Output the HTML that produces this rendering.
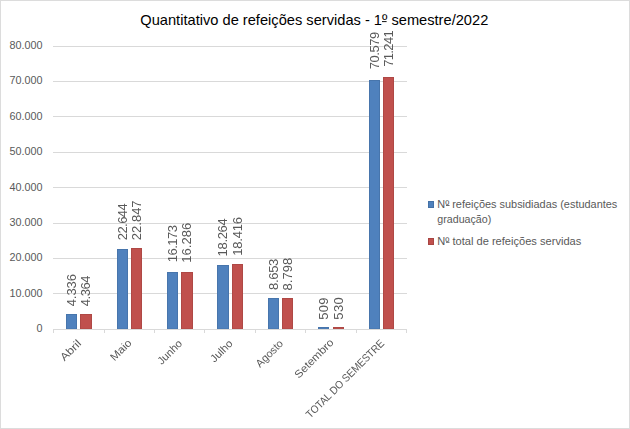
<!DOCTYPE html>
<html><head><meta charset="utf-8"><style>
html,body{margin:0;padding:0;background:#fff;}
svg{display:block;font-family:"Liberation Sans",sans-serif;}
.ov{position:absolute;left:0;top:0;will-change:transform;}
</style></head><body>
<div style="position:relative;width:630px;height:429px;overflow:hidden">
<svg width="630" height="429" viewBox="0 0 630 429">
<rect x="0.5" y="0.5" width="629" height="428" fill="#fff" stroke="#dcdcdc" stroke-width="1"/>
<text x="140.3" y="24.8" font-size="13.9" fill="#000" textLength="348" lengthAdjust="spacingAndGlyphs">Quantitativo de refeições servidas - 1º semestre/2022</text>
<line x1="53" y1="46.5" x2="407" y2="46.5" stroke="#d9d9d9" stroke-width="1"/>
<line x1="53" y1="81.5" x2="407" y2="81.5" stroke="#d9d9d9" stroke-width="1"/>
<line x1="53" y1="116.5" x2="407" y2="116.5" stroke="#d9d9d9" stroke-width="1"/>
<line x1="53" y1="152.5" x2="407" y2="152.5" stroke="#d9d9d9" stroke-width="1"/>
<line x1="53" y1="187.5" x2="407" y2="187.5" stroke="#d9d9d9" stroke-width="1"/>
<line x1="53" y1="223.5" x2="407" y2="223.5" stroke="#d9d9d9" stroke-width="1"/>
<line x1="53" y1="258.5" x2="407" y2="258.5" stroke="#d9d9d9" stroke-width="1"/>
<line x1="53" y1="293.5" x2="407" y2="293.5" stroke="#d9d9d9" stroke-width="1"/>
<text x="42.6" y="49.00" font-size="10.8" fill="#595959" text-anchor="end">80.000</text>
<text x="42.6" y="84.39" font-size="10.8" fill="#595959" text-anchor="end">70.000</text>
<text x="42.6" y="119.78" font-size="10.8" fill="#595959" text-anchor="end">60.000</text>
<text x="42.6" y="155.17" font-size="10.8" fill="#595959" text-anchor="end">50.000</text>
<text x="42.6" y="190.56" font-size="10.8" fill="#595959" text-anchor="end">40.000</text>
<text x="42.6" y="225.95" font-size="10.8" fill="#595959" text-anchor="end">30.000</text>
<text x="42.6" y="261.34" font-size="10.8" fill="#595959" text-anchor="end">20.000</text>
<text x="42.6" y="296.73" font-size="10.8" fill="#595959" text-anchor="end">10.000</text>
<text x="42.6" y="332.12" font-size="10.8" fill="#595959" text-anchor="end">0</text>
<rect x="66" y="314" width="11" height="15" fill="#4F81BD"/>
<rect x="66.5" y="314.5" width="10" height="14.5" fill="none" stroke="#385D8A" stroke-width="1" stroke-opacity="0.32"/>
<rect x="80" y="314" width="12" height="15" fill="#C0504D"/>
<rect x="80.5" y="314.5" width="11" height="14.5" fill="none" stroke="#8C3836" stroke-width="1" stroke-opacity="0.32"/>
<rect x="117" y="249" width="11" height="80" fill="#4F81BD"/>
<rect x="117.5" y="249.5" width="10" height="79.5" fill="none" stroke="#385D8A" stroke-width="1" stroke-opacity="0.32"/>
<rect x="131" y="248" width="11" height="81" fill="#C0504D"/>
<rect x="131.5" y="248.5" width="10" height="80.5" fill="none" stroke="#8C3836" stroke-width="1" stroke-opacity="0.32"/>
<rect x="167" y="272" width="11" height="57" fill="#4F81BD"/>
<rect x="167.5" y="272.5" width="10" height="56.5" fill="none" stroke="#385D8A" stroke-width="1" stroke-opacity="0.32"/>
<rect x="181" y="272" width="12" height="57" fill="#C0504D"/>
<rect x="181.5" y="272.5" width="11" height="56.5" fill="none" stroke="#8C3836" stroke-width="1" stroke-opacity="0.32"/>
<rect x="217" y="265" width="12" height="64" fill="#4F81BD"/>
<rect x="217.5" y="265.5" width="11" height="63.5" fill="none" stroke="#385D8A" stroke-width="1" stroke-opacity="0.32"/>
<rect x="232" y="264" width="11" height="65" fill="#C0504D"/>
<rect x="232.5" y="264.5" width="10" height="64.5" fill="none" stroke="#8C3836" stroke-width="1" stroke-opacity="0.32"/>
<rect x="268" y="298" width="11" height="31" fill="#4F81BD"/>
<rect x="268.5" y="298.5" width="10" height="30.5" fill="none" stroke="#385D8A" stroke-width="1" stroke-opacity="0.32"/>
<rect x="282" y="298" width="11" height="31" fill="#C0504D"/>
<rect x="282.5" y="298.5" width="10" height="30.5" fill="none" stroke="#8C3836" stroke-width="1" stroke-opacity="0.32"/>
<rect x="318" y="327" width="11" height="2" fill="#4F81BD"/>
<rect x="318.5" y="327.5" width="10" height="1.5" fill="none" stroke="#385D8A" stroke-width="1" stroke-opacity="0.32"/>
<rect x="333" y="327" width="11" height="2" fill="#C0504D"/>
<rect x="333.5" y="327.5" width="10" height="1.5" fill="none" stroke="#8C3836" stroke-width="1" stroke-opacity="0.32"/>
<rect x="369" y="80" width="11" height="249" fill="#4F81BD"/>
<rect x="369.5" y="80.5" width="10" height="248.5" fill="none" stroke="#385D8A" stroke-width="1" stroke-opacity="0.32"/>
<rect x="383" y="77" width="11" height="252" fill="#C0504D"/>
<rect x="383.5" y="77.5" width="10" height="251.5" fill="none" stroke="#8C3836" stroke-width="1" stroke-opacity="0.32"/>
<line x1="53" y1="329.5" x2="407" y2="329.5" stroke="#d9d9d9" stroke-width="1"/>
<line x1="53.5" y1="329" x2="53.5" y2="333" stroke="#d9d9d9" stroke-width="1"/>
<line x1="104.5" y1="329" x2="104.5" y2="333" stroke="#d9d9d9" stroke-width="1"/>
<line x1="154.5" y1="329" x2="154.5" y2="333" stroke="#d9d9d9" stroke-width="1"/>
<line x1="204.5" y1="329" x2="204.5" y2="333" stroke="#d9d9d9" stroke-width="1"/>
<line x1="255.5" y1="329" x2="255.5" y2="333" stroke="#d9d9d9" stroke-width="1"/>
<line x1="305.5" y1="329" x2="305.5" y2="333" stroke="#d9d9d9" stroke-width="1"/>
<line x1="356.5" y1="329" x2="356.5" y2="333" stroke="#d9d9d9" stroke-width="1"/>
<line x1="406.5" y1="329" x2="406.5" y2="333" stroke="#d9d9d9" stroke-width="1"/>
<rect x="428" y="201" width="6" height="7" fill="#4F81BD"/><rect x="428.5" y="201.5" width="5" height="6" fill="none" stroke="#385D8A" stroke-opacity="0.45"/>
<rect x="428" y="238" width="6" height="7" fill="#C0504D"/><rect x="428.5" y="238.5" width="5" height="6" fill="none" stroke="#8C3836" stroke-opacity="0.45"/>
<text x="437.3" y="208.3" font-size="10.6" fill="#595959" textLength="180" lengthAdjust="spacingAndGlyphs">Nº refeições subsidiadas (estudantes</text>
<text x="437.3" y="222.6" font-size="10.6" fill="#595959" textLength="54" lengthAdjust="spacingAndGlyphs">graduação)</text>
<text x="437.3" y="245" font-size="10.6" fill="#595959" textLength="144" lengthAdjust="spacingAndGlyphs">Nº total de refeições servidas</text>
<rect x="382" y="21" width="4.6" height="1.1" fill="#000" fill-opacity="0.85"/>
<rect x="446" y="205" width="3.5" height="1" fill="#595959" fill-opacity="0.9"/>
<rect x="446" y="241.8" width="3.5" height="1" fill="#595959" fill-opacity="0.9"/>
</svg>
<svg class="ov" width="630" height="429" viewBox="0 0 630 429">
<text transform="translate(75.70,306.26) rotate(-90) scale(1.08,1)" font-size="12" fill="#595959" textLength="29.76" lengthAdjust="spacing">4.336</text>
<text transform="translate(90.20,306.16) rotate(-90) scale(1.08,1)" font-size="12" fill="#595959" textLength="28.28" lengthAdjust="spacing">4.364</text>
<text transform="translate(126.70,240.30) rotate(-90) scale(1.08,1)" font-size="12" fill="#595959" textLength="34.31" lengthAdjust="spacing">22.644</text>
<text transform="translate(140.70,240.18) rotate(-90) scale(1.08,1)" font-size="12" fill="#595959" textLength="36.81" lengthAdjust="spacing">22.847</text>
<text transform="translate(176.70,262.19) rotate(-90) scale(1.08,1)" font-size="12" fill="#595959" textLength="34.31" lengthAdjust="spacing">16.173</text>
<text transform="translate(191.20,262.79) rotate(-90) scale(1.08,1)" font-size="12" fill="#595959" textLength="37.08" lengthAdjust="spacing">16.286</text>
<text transform="translate(227.20,256.39) rotate(-90) scale(1.08,1)" font-size="12" fill="#595959" textLength="35.23" lengthAdjust="spacing">18.264</text>
<text transform="translate(241.70,255.85) rotate(-90) scale(1.08,1)" font-size="12" fill="#595959" textLength="35.88" lengthAdjust="spacing">18.416</text>
<text transform="translate(277.70,289.99) rotate(-90) scale(1.08,1)" font-size="12" fill="#595959" textLength="28.93" lengthAdjust="spacing">8.653</text>
<text transform="translate(291.70,290.48) rotate(-90) scale(1.08,1)" font-size="12" fill="#595959" textLength="30.22" lengthAdjust="spacing">8.798</text>
<text transform="translate(327.70,319.80) rotate(-90) scale(1.08,1)" font-size="12" fill="#595959" textLength="20.58" lengthAdjust="spacing">509</text>
<text transform="translate(342.70,319.73) rotate(-90) scale(1.08,1)" font-size="12" fill="#595959" textLength="20.86" lengthAdjust="spacing">530</text>
<text transform="translate(378.70,69.33) rotate(-90) scale(1.08,1)" font-size="12" fill="#595959" textLength="34.77" lengthAdjust="spacing">70.579</text>
<text transform="translate(392.70,66.78) rotate(-90) scale(1.08,1)" font-size="12" fill="#595959" textLength="33.75" lengthAdjust="spacing">71.241</text>
<text transform="translate(81.85,344.20) rotate(-45)" font-size="10.8" fill="#595959" text-anchor="end" textLength="24.50" lengthAdjust="spacingAndGlyphs">Abril</text>
<text transform="translate(132.35,343.60) rotate(-45)" font-size="10.8" fill="#595959" text-anchor="end" textLength="25.30" lengthAdjust="spacingAndGlyphs">Maio</text>
<text transform="translate(182.85,344.20) rotate(-45)" font-size="10.8" fill="#595959" text-anchor="end" textLength="29.90" lengthAdjust="spacingAndGlyphs">Junho</text>
<text transform="translate(233.35,344.20) rotate(-45)" font-size="10.8" fill="#595959" text-anchor="end" textLength="26.50" lengthAdjust="spacingAndGlyphs">Julho</text>
<text transform="translate(283.85,344.20) rotate(-45)" font-size="10.8" fill="#595959" text-anchor="end" textLength="33.60" lengthAdjust="spacingAndGlyphs">Agosto</text>
<text transform="translate(334.35,343.20) rotate(-45)" font-size="10.8" fill="#595959" text-anchor="end" textLength="50.50" lengthAdjust="spacingAndGlyphs">Setembro</text>
<text transform="translate(384.85,344.20) rotate(-45)" font-size="10.8" fill="#595959" text-anchor="end" textLength="105.40" lengthAdjust="spacingAndGlyphs">TOTAL DO SEMESTRE</text>
</svg>
</div>
</body></html>
